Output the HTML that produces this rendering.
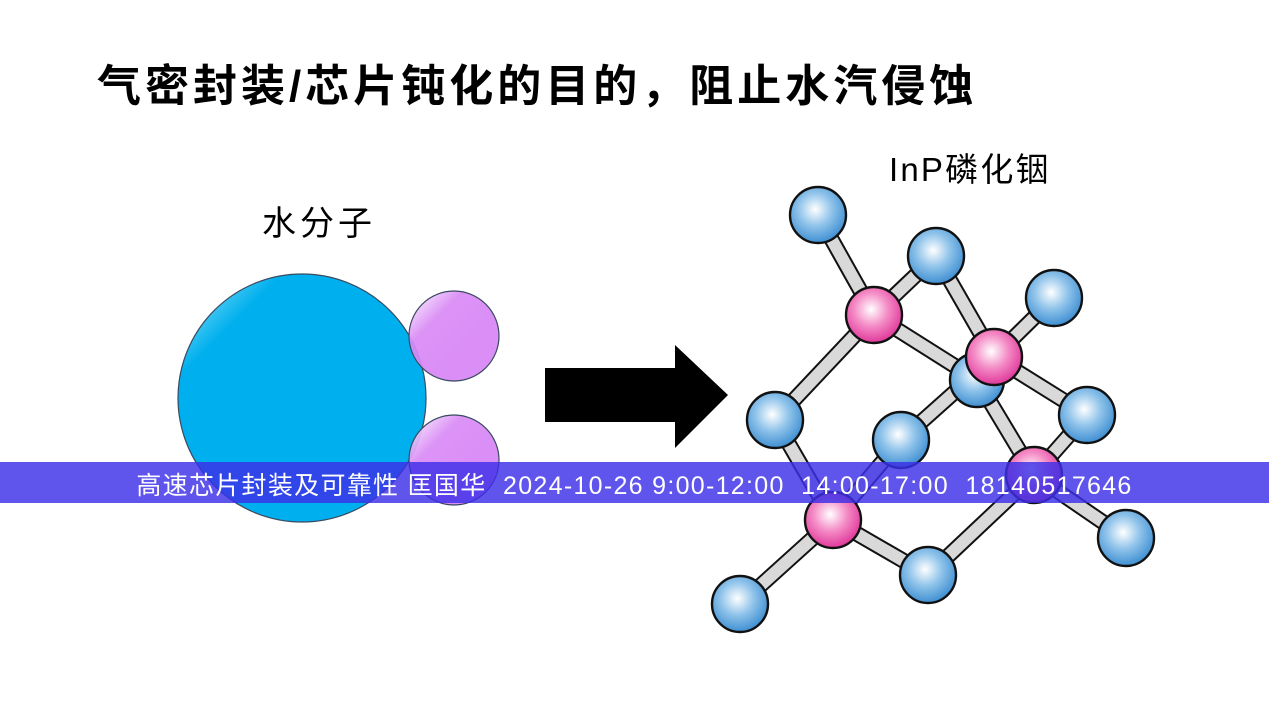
<!DOCTYPE html>
<html><head><meta charset="utf-8"><style>
html,body{margin:0;padding:0;background:#fff;}
body{width:1269px;height:714px;position:relative;overflow:hidden;font-family:"Liberation Sans","Noto Sans CJK SC",sans-serif;}
.t{position:absolute;white-space:nowrap;color:#000;}
</style></head><body>
<svg width="1269" height="714" style="position:absolute;left:0;top:0">
<defs>
<radialGradient id="bg" cx="0.45" cy="0.4" r="0.6"><stop offset="0" stop-color="#fff"/><stop offset="0.5" stop-color="#8fc3ea"/><stop offset="1" stop-color="#3f8fd2"/></radialGradient>
<radialGradient id="pg" cx="0.45" cy="0.4" r="0.6"><stop offset="0" stop-color="#fff"/><stop offset="0.5" stop-color="#f48cc6"/><stop offset="1" stop-color="#e0389a"/></radialGradient>
<linearGradient id="wg" x1="0" y1="0" x2="0.6" y2="0.6"><stop offset="0" stop-color="#b5ecfb"/><stop offset="0.35" stop-color="#00b0ee"/><stop offset="1" stop-color="#00b0ee"/></linearGradient>
<linearGradient id="hg" x1="0" y1="0" x2="0.6" y2="0.6"><stop offset="0" stop-color="#fff"/><stop offset="0.5" stop-color="#d98af5"/><stop offset="1" stop-color="#d785f5"/></linearGradient>
</defs>
<circle cx="302" cy="398" r="124" fill="url(#wg)" stroke="#3a4a60" stroke-width="1.2"/>
<circle cx="454" cy="336" r="45" fill="url(#hg)" fill-opacity="0.92" stroke="#3a4a60" stroke-width="1.2"/>
<circle cx="454" cy="460" r="45" fill="url(#hg)" fill-opacity="0.92" stroke="#3a4a60" stroke-width="1.2"/>
<polygon points="545,368 675,368 675,345 728,395 675,448 675,422 545,422" fill="#000"/>
<g stroke="#111" stroke-width="16" stroke-linecap="butt">
<line x1="874" y1="315" x2="818" y2="215"/><line x1="874" y1="315" x2="936" y2="256"/><line x1="874" y1="315" x2="775" y2="420"/><line x1="874" y1="315" x2="977" y2="380"/>
<line x1="994" y1="357" x2="936" y2="256"/><line x1="994" y1="357" x2="1054" y2="298"/><line x1="994" y1="357" x2="901" y2="440"/><line x1="994" y1="357" x2="1087" y2="415"/>
<line x1="1034" y1="475" x2="977" y2="380"/><line x1="1034" y1="475" x2="1087" y2="415"/><line x1="1034" y1="475" x2="1126" y2="538"/><line x1="1034" y1="475" x2="928" y2="575"/>
<line x1="833" y1="520" x2="775" y2="420"/><line x1="833" y1="520" x2="901" y2="440"/><line x1="833" y1="520" x2="928" y2="575"/><line x1="833" y1="520" x2="740" y2="604"/>
</g>
<g stroke="#d9d9d9" stroke-width="12">
<line x1="874" y1="315" x2="818" y2="215"/><line x1="874" y1="315" x2="936" y2="256"/><line x1="874" y1="315" x2="775" y2="420"/><line x1="874" y1="315" x2="977" y2="380"/>
<line x1="994" y1="357" x2="936" y2="256"/><line x1="994" y1="357" x2="1054" y2="298"/><line x1="994" y1="357" x2="901" y2="440"/><line x1="994" y1="357" x2="1087" y2="415"/>
<line x1="1034" y1="475" x2="977" y2="380"/><line x1="1034" y1="475" x2="1087" y2="415"/><line x1="1034" y1="475" x2="1126" y2="538"/><line x1="1034" y1="475" x2="928" y2="575"/>
<line x1="833" y1="520" x2="775" y2="420"/><line x1="833" y1="520" x2="901" y2="440"/><line x1="833" y1="520" x2="928" y2="575"/><line x1="833" y1="520" x2="740" y2="604"/>
</g>
<g stroke="#111" stroke-width="2.4" fill="url(#bg)">
<circle cx="977" cy="380" r="27"/>
<circle cx="818" cy="215" r="28"/><circle cx="936" cy="256" r="28"/><circle cx="1054" cy="298" r="28"/><circle cx="775" cy="420" r="28"/>
<circle cx="901" cy="440" r="28"/><circle cx="1087" cy="415" r="28"/><circle cx="1126" cy="538" r="28"/><circle cx="928" cy="575" r="28"/><circle cx="740" cy="604" r="28"/>
</g>
<g stroke="#111" stroke-width="2.4" fill="url(#pg)">
<circle cx="874" cy="315" r="28"/><circle cx="994" cy="357" r="28"/><circle cx="1034" cy="475" r="28"/><circle cx="833" cy="520" r="28"/>
</g>
<rect x="0" y="462" width="1269" height="41" fill="#3c2ee6" fill-opacity="0.82"/>
</svg>
<div class="t" style="left:97px;top:50px;font-size:44px;letter-spacing:4px;font-weight:bold;">气密封装/芯片钝化的目的，阻止水汽侵蚀</div>
<div class="t" style="left:262px;top:196px;font-size:34px;letter-spacing:4px;">水分子</div>
<div class="t" style="left:889px;top:143px;font-size:33px;letter-spacing:2.2px;">InP磷化铟</div>
<div class="t" style="left:0;width:1269px;text-align:center;top:466px;font-size:25px;letter-spacing:1.3px;color:#fff;">高速芯片封装及可靠性 匡国华&nbsp;&nbsp;2024-10-26 9:00-12:00&nbsp;&nbsp;14:00-17:00&nbsp;&nbsp;18140517646</div>
</body></html>
